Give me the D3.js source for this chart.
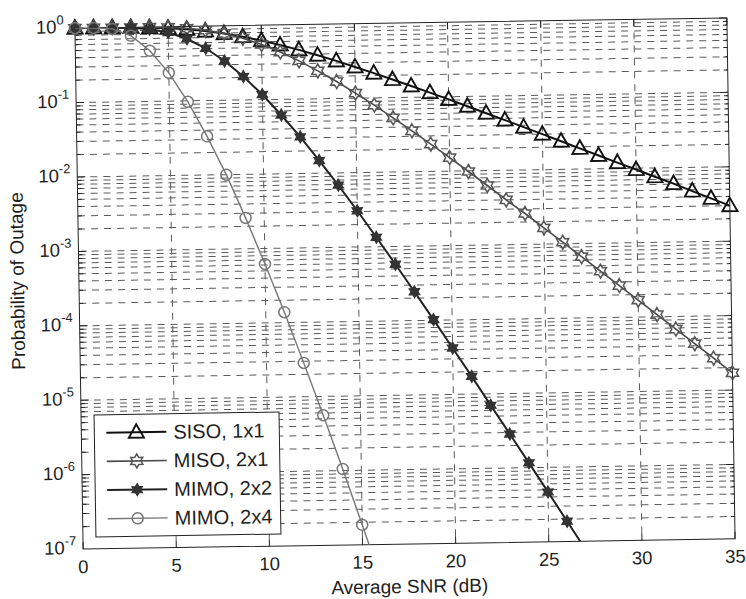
<!DOCTYPE html>
<html><head><meta charset="utf-8">
<script src="https://cdn.jsdelivr.net/npm/d3@7"></script>
<style>
body{margin:0;background:#fff}
svg{display:block}
text{font-family:"Liberation Sans",Arial,Helvetica,sans-serif;fill:#1e1e1e}
</style>
</head><body>
<svg id="chart" width="746" height="599"></svg>
<script>
// ---- data ----
const snrDb = [0,1,2,3,4,5,6,7,8,9,10,11,12,13,14,15,16,17,18,19,20,21,22,23,24,25,26,27,28,29,30,31,32,33,34,35];
const sisoOutage = [1.0,0.9995,0.9975,0.991,0.977,0.952,0.912,0.857,0.786,0.706,0.622,0.538,0.458,0.385,0.320,0.263,0.215,0.175,0.142,0.1145,0.0920,0.0738,0.0590,0.0472,0.0376,0.0300,0.0239,0.0190,0.0151,0.0120,0.0096,0.0076,0.0061,0.0048,0.0038,0.0030];
const misoOutage = [1.0,1.0,0.9999,0.999,0.995,0.980,0.946,0.883,0.790,0.676,0.552,0.432,0.326,0.237,0.169,0.117,0.080,0.0534,0.0354,0.0233,0.0152,0.0098,0.0063,0.0040,0.0026,0.00165,0.00105,0.000665,0.000421,0.000267,0.000169,0.000107,0.0000676,0.0000427,0.0000270,0.0000170];
const mimo22Outage = [1.0,1.0,0.997,0.982,0.935,0.835,0.682,0.504,0.337,0.2065,0.117,0.0616,0.0310,0.0148,0.00685,0.00307,0.00134,0.000577,0.000244,0.000102,0.0000421,0.0000173,0.0000070,0.00000286,0.00000116,0.000000466,0.000000187,0.000000075];
const mimo24Outage = [1.0,0.995,0.96,0.77,0.48,0.24,0.097,0.033,0.0100,0.0026,0.00062,0.000138,0.0000285,0.0000056,0.00000105,0.000000185,0.000000032];
const seriesNames = ["SISO, 1x1","MISO, 2x1","MIMO, 2x2","MIMO, 2x4"];
const xTicks = [0,5,10,15,20,25,30,35];
const yTickExponents = [0,-1,-2,-3,-4,-5,-6,-7];
const xLabel = "Average SNR (dB)";
const yLabel = "Probability of Outage";

// ---- layout ----
const W = 746, H = 599;
const L = 79, R = 731, T = 23, B = 544;
const svg = d3.select("#chart");
svg.append("rect").attr("width",W).attr("height",H).attr("fill","#fff");
const root = svg.append("g").attr("transform","rotate(-0.9,405,283)");

const x = d3.scaleLinear().domain([0,35]).range([L,R]);
const y = d3.scaleLog().domain([1e-7,1]).range([B,T]);

// clip
svg.append("defs").append("clipPath").attr("id","plotclip")
  .append("rect").attr("x",L).attr("y",T).attr("width",R-L).attr("height",B-T);

// ---- grid ----
const grid = root.append("g").attr("stroke","#5a5a5a").attr("stroke-width",1)
  .attr("stroke-dasharray","7,6").attr("fill","none");
xTicks.filter(v=>v>0 && v<35).forEach(v=>{
  grid.append("line").attr("x1",x(v)).attr("x2",x(v)).attr("y1",T).attr("y2",B);
});
const minorVals = [];
for (let e=-7; e<0; e++) for (let m=1; m<=9; m++) {
  const v = m*Math.pow(10,e);
  if (v>1e-7*1.0001) minorVals.push(v);
}
minorVals.forEach(v=>{
  grid.append("line").attr("x1",L).attr("x2",R).attr("y1",y(v)).attr("y2",y(v));
});

// ---- axes box & ticks ----
const ax = root.append("g").attr("stroke","#222").attr("stroke-width",1).attr("fill","none");
ax.append("rect").attr("x",L).attr("y",T).attr("width",R-L).attr("height",B-T);
xTicks.forEach(v=>{
  ax.append("line").attr("x1",x(v)).attr("x2",x(v)).attr("y1",B).attr("y2",B-7);
  ax.append("line").attr("x1",x(v)).attr("x2",x(v)).attr("y1",T).attr("y2",T+7);
});
minorVals.concat([1]).forEach(v=>{
  const major = Math.abs(Math.log10(v)-Math.round(Math.log10(v)))<1e-6;
  const len = major ? 8 : 4;
  ax.append("line").attr("x1",L).attr("x2",L+len).attr("y1",y(v)).attr("y2",y(v));
  ax.append("line").attr("x1",R).attr("x2",R-len).attr("y1",y(v)).attr("y2",y(v));
});

// tick labels
const tl = root.append("g").attr("font-size",18.5);
xTicks.forEach(v=>{
  tl.append("text").attr("x",x(v)).attr("y",B+24).attr("text-anchor","middle").text(v);
});
yTickExponents.forEach(e=>{
  const t = tl.append("text").attr("x",L-39).attr("y",y(Math.pow(10,e))+5);
  t.append("tspan").text("10");
  t.append("tspan").attr("dy",-9).attr("font-size",13).text(String(e).replace("-","-"));
});

// axis labels
root.append("text").attr("x",(L+R)/2).attr("y",593).attr("text-anchor","middle")
  .attr("font-size",19).text(xLabel);
root.append("text").attr("transform","translate(24,275) rotate(-90)").attr("text-anchor","middle")
  .attr("font-size",19).text(yLabel);

// ---- marker shapes ----
function trianglePath(s){ return `M0,${-s*0.62}L${s*0.58},${s*0.42}L${-s*0.58},${s*0.42}Z`; }
function hexPath(R0){
  const r = R0/Math.sqrt(3); let p = "";
  for (let k=0;k<12;k++){
    const a = (-90 + k*30)*Math.PI/180, rr = k%2 ? r : R0;
    p += (k?"L":"M") + (rr*Math.cos(a)).toFixed(2) + "," + (rr*Math.sin(a)).toFixed(2);
  }
  return p+"Z";
}
const circlePath = d3.symbol().type(d3.symbolCircle).size(Math.PI*5.5*5.5)();

const series = [
  {name:seriesNames[0], vals:sisoOutage, color:"#111", lw:2.0, path:trianglePath(13), fill:"none", mstroke:"#111", mw:1.9},
  {name:seriesNames[1], vals:misoOutage, color:"#4a4a4a", lw:1.6, path:hexPath(7), fill:"none", mstroke:"#555", mw:1.5},
  {name:seriesNames[2], vals:mimo22Outage, color:"#222", lw:2.0, path:hexPath(6), fill:"#333", mstroke:"#333", mw:1.2},
  {name:seriesNames[3], vals:mimo24Outage, color:"#777", lw:1.4, path:circlePath, fill:"none", mstroke:"#777", mw:1.5}
];

const line = d3.line().x(d=>x(d[0])).y(d=>y(d[1]));
const plot = root.append("g");
series.forEach(s=>{
  const pts = s.vals.map((v,i)=>[snrDb[i],v]);
  plot.append("path").attr("d",line(pts)).attr("fill","none")
    .attr("stroke",s.color).attr("stroke-width",s.lw).attr("clip-path","url(#plotclip)");
  plot.append("g").selectAll("path").data(pts.filter(p=>p[1]>=1e-7 && p[1]<=1))
    .join("path").attr("d",s.path)
    .attr("transform",d=>`translate(${x(d[0])},${y(d[1])})`)
    .attr("fill",s.fill).attr("stroke",s.mstroke).attr("stroke-width",s.mw);
});

// ---- legend ----
const lg = root.append("g");
lg.append("rect").attr("x",92).attr("y",410).attr("width",185).attr("height",122)
  .attr("fill","#fff").attr("stroke","#222").attr("stroke-width",1);
series.forEach((s,i)=>{
  const ly = 428 + i*28.7;
  lg.append("line").attr("x1",104).attr("x2",164).attr("y1",ly).attr("y2",ly)
    .attr("stroke",s.color).attr("stroke-width",s.lw);
  lg.append("path").attr("d",s.path).attr("transform",`translate(134,${ly})`)
    .attr("fill",s.fill).attr("stroke",s.mstroke).attr("stroke-width",s.mw);
  lg.append("text").attr("x",171).attr("y",ly+7).attr("font-size",20).text(s.name);
});
</script>
</body></html>
